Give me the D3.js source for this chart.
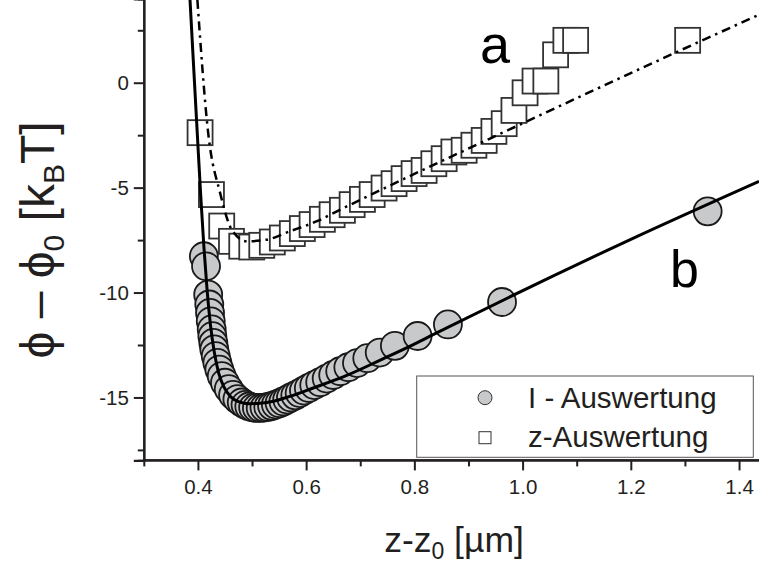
<!DOCTYPE html>
<html><head><meta charset="utf-8">
<script src="https://cdn.jsdelivr.net/npm/d3@7"></script>
<style>
html,body{margin:0;padding:0;background:#fff;}
svg{display:block;font-family:"Liberation Sans",Arial,sans-serif;}
</style></head>
<body>
<svg id="chart" width="759" height="564"></svg>
<script>
// ---- data ----
// I - Auswertung (circles)
const zI   = [0.411,0.415,0.419,0.421,0.4224,0.4237,0.4255,0.4267,0.4285,0.4303,0.433,0.436,0.4396,0.444,0.450,0.457,0.465,0.473,0.481,0.488,0.495,0.502,0.509,0.516,0.523,0.530,0.537,0.544,0.551,0.558,0.565,0.572,0.580,0.588,0.596,0.605,0.615,0.626,0.638,0.650,0.663,0.678,0.694,0.713,0.736,0.764,0.806,0.862,0.962,1.342];
const phiI = [-8.27,-8.75,-10.10,-10.57,-10.97,-11.37,-11.76,-12.08,-12.40,-12.71,-13.03,-13.35,-13.67,-13.98,-14.30,-14.60,-14.88,-15.08,-15.24,-15.35,-15.43,-15.48,-15.50,-15.50,-15.48,-15.45,-15.40,-15.34,-15.27,-15.19,-15.10,-15.00,-14.90,-14.79,-14.67,-14.55,-14.41,-14.27,-14.10,-13.93,-13.75,-13.56,-13.36,-13.13,-12.86,-12.54,-12.07,-11.52,-10.45,-6.13];
// z - Auswertung (squares)
const zZ   = [0.404,0.425,0.444,0.462,0.481,0.4995,0.518,0.5375,0.556,0.5745,0.593,0.611,0.630,0.648,0.667,0.685,0.704,0.722,0.744,0.7625,0.781,0.7995,0.818,0.836,0.855,0.873,0.892,0.910,0.929,0.947,0.966,0.984,1.0046,1.023,1.043,1.061,1.080,1.098,1.305];
const phiZ = [-2.38,-5.33,-6.83,-7.56,-7.79,-7.83,-7.75,-7.59,-7.40,-7.19,-6.95,-6.76,-6.51,-6.29,-6.08,-5.81,-5.56,-5.33,-5.02,-4.81,-4.57,-4.33,-4.18,-3.86,-3.62,-3.30,-3.22,-2.98,-2.75,-2.32,-1.95,-1.32,-0.48,0.08,0.08,1.33,2.02,2.02,2.02];
// fit curve b (solid)
const fitBz   = [0.3854,0.392,0.399,0.405,0.411,0.417,0.423,0.430,0.438,0.448,0.460,0.475,0.495,0.515,0.540,0.570,0.613,0.675,0.737,0.798,0.829,1.202,1.437];
const fitBphi = [3.95,0.8,-2.5,-5.3,-7.8,-9.9,-11.5,-12.8,-13.8,-14.5,-14.95,-15.2,-15.3,-15.28,-15.18,-14.95,-14.55,-13.95,-13.22,-12.48,-12.08,-7.44,-4.70];
// fit curve a (dash-dot)
const fitAz   = [0.399,0.419,0.441,0.4625,0.490,0.527,0.570,0.620,0.663,1.008,1.328,1.437];
const fitAphi = [3.95,-2.40,-5.25,-7.0,-7.56,-7.48,-7.08,-6.60,-6.05,-1.84,1.97,3.24];
// axes
const xMajor = [0.4,0.6,0.8,1.0,1.2,1.4];
const xMajorLabels = ["0.4","0.6","0.8","1.0","1.2","1.4"];
const xMinor = [0.3,0.5,0.7,0.9,1.1,1.3];
const yMajor = [0,-5,-10,-15];
const yMajorLabels = ["0","-5","-10","-15"];
const yMinor = [2.5,-2.5,-7.5,-12.5,-17.5];
const legendLabels = ["I - Auswertung","z-Auswertung"];
const curveLabels = ["a","b"];

// ---- drawing ----
const svg = d3.select("#chart");
const ink = "#231f20";
const x = d3.scaleLinear().domain([0.3,1.45]).range([143.8,766.1]);
const y = d3.scaleLinear().domain([-18,4]).range([460.4,-1.2]);

svg.append("defs").append("clipPath").attr("id","clip")
  .append("rect").attr("x",x(0.3)).attr("y",-5).attr("width",700).attr("height",y(-18)+5);

const plot = svg.append("g").attr("clip-path","url(#clip)");

// squares
const sq = 25;
plot.append("g").selectAll("rect").data(zZ.map((z,i)=>[z,phiZ[i]])).join("rect")
  .attr("x",d=>x(d[0])-sq/2).attr("y",d=>y(d[1])-sq/2)
  .attr("width",sq).attr("height",sq)
  .attr("fill","#fff").attr("stroke","#333").attr("stroke-width",1.8);

// circles
plot.append("g").selectAll("circle").data(zI.map((z,i)=>[z,phiI[i]])).join("circle")
  .attr("cx",d=>x(d[0])).attr("cy",d=>y(d[1])).attr("r",14)
  .attr("fill","#c8c9cb").attr("stroke","#1a1a1a").attr("stroke-width",1.8);

const line = d3.line().x(d=>x(d[0])).y(d=>y(d[1])).curve(d3.curveMonotoneX);
plot.append("path").datum(fitAz.map((z,i)=>[z,fitAphi[i]]))
  .attr("d",line).attr("fill","none").attr("stroke","#000").attr("stroke-width",2.5)
  .attr("stroke-dasharray","9,5,2.5,5");
plot.append("path").datum(fitBz.map((z,i)=>[z,fitBphi[i]]))
  .attr("d",line).attr("fill","none").attr("stroke","#000").attr("stroke-width",3);

// axes
const gx = svg.append("g").attr("transform",`translate(0,${y(-18)})`);
gx.call(d3.axisBottom(x).tickValues(xMajor).tickSize(10).tickPadding(9)
  .tickFormat((d,i)=>xMajorLabels[i]));
gx.append("g").call(d3.axisBottom(x).tickValues(xMinor).tickSize(6).tickFormat(""));
const gy = svg.append("g").attr("transform",`translate(${x(0.3)},0)`);
gy.call(d3.axisLeft(y).tickValues(yMajor).tickSize(10).tickPadding(5)
  .tickFormat((d,i)=>yMajorLabels[i]));
gy.append("g").call(d3.axisLeft(y).tickValues(yMinor).tickSize(6).tickFormat(""));
svg.selectAll(".domain").attr("stroke",ink).attr("stroke-width",2.2);
svg.selectAll(".tick line").attr("stroke",ink).attr("stroke-width",2);
svg.selectAll(".tick text").attr("fill",ink).attr("font-size",20.5)
  .attr("font-family","'Liberation Sans',Arial,sans-serif");
gx.selectAll("path.domain").attr("d",`M${x(0.3)},0H759`);

// axis titles
const xt = svg.append("text").attr("x",454).attr("y",552).attr("text-anchor","middle")
  .attr("font-size",35.5).attr("fill",ink);
xt.append("tspan").text("z-z");
xt.append("tspan").attr("font-size",23).attr("dy",7).text("0");
xt.append("tspan").attr("dy",-7).text(" [µm]");

const yt = svg.append("text").attr("transform","translate(54,240) rotate(-90)")
  .attr("text-anchor","middle").attr("font-size",48).attr("fill",ink);
yt.append("tspan").text("ϕ – ϕ");
yt.append("tspan").attr("font-size",30).attr("dy",10).text("0");
yt.append("tspan").attr("dy",-10).text(" [k");
yt.append("tspan").attr("font-size",30).attr("dy",10).text("B");
yt.append("tspan").attr("dy",-10).text("T]");

// curve labels
svg.append("text").attr("x",480).attr("y",63).attr("font-size",54).attr("fill","#000").text(curveLabels[0]);
svg.append("text").attr("x",670).attr("y",287).attr("font-size",52).attr("fill","#000").text(curveLabels[1]);

// legend
const lg = svg.append("g");
lg.append("rect").attr("x",416.7).attr("y",376).attr("width",336.6).attr("height",81.3)
  .attr("fill","#fff").attr("stroke","#555").attr("stroke-width",1);
lg.append("circle").attr("cx",485).attr("cy",397.7).attr("r",7)
  .attr("fill","#c8c9cb").attr("stroke","#333").attr("stroke-width",1);
lg.append("rect").attr("x",485-6).attr("y",437.7-6).attr("width",12).attr("height",12)
  .attr("fill","#fff").attr("stroke","#333").attr("stroke-width",1);
lg.selectAll("text.lab").data(legendLabels).join("text").attr("class","lab")
  .attr("x",528).attr("y",(d,i)=>408+i*38.5).attr("font-size",29.5).attr("fill",ink).text(d=>d);
</script>
</body></html>
